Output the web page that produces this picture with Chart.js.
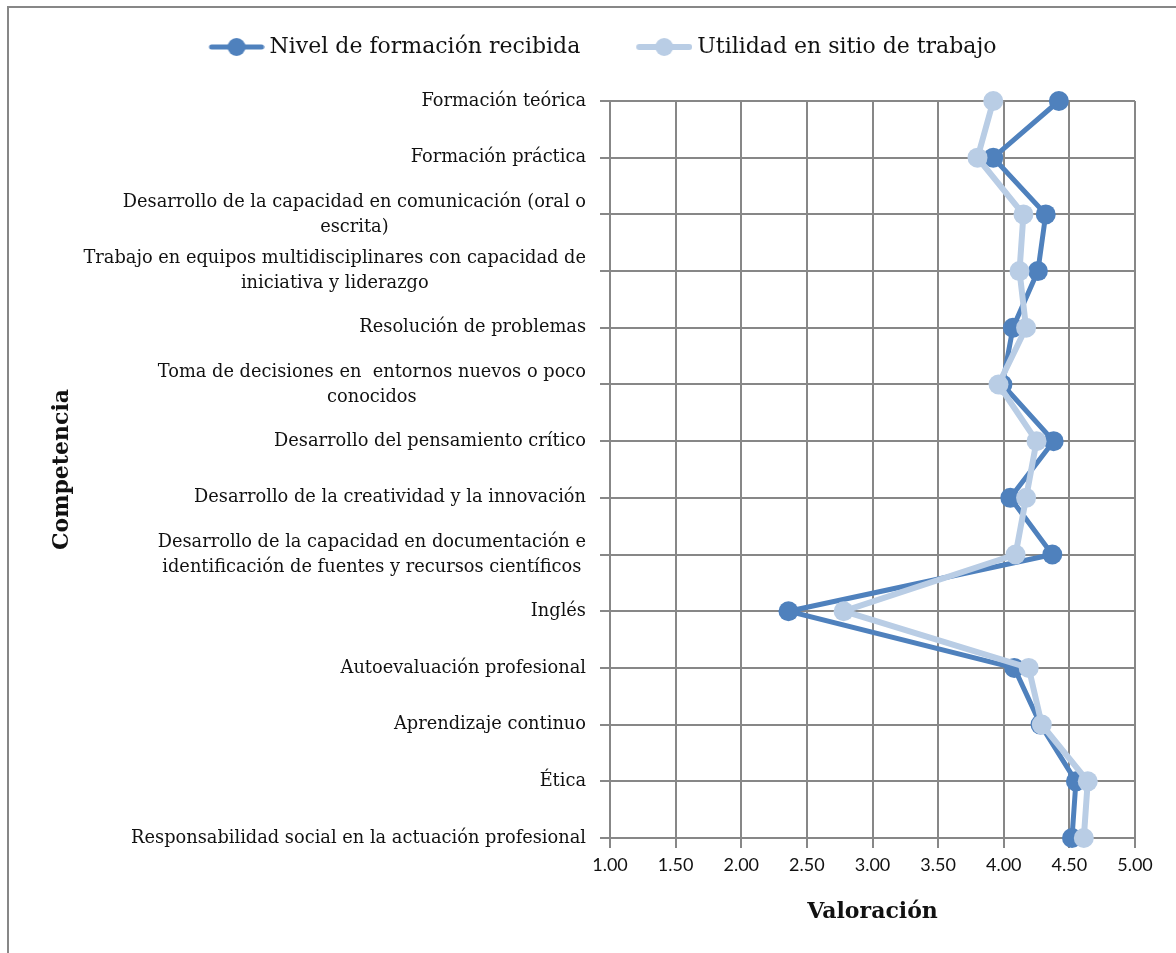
<!DOCTYPE html>
<html>
<head>
<meta charset="utf-8">
<title>Competencias</title>
<script src="https://cdn.jsdelivr.net/npm/chart.js@4/dist/chart.umd.min.js"></script>
<style>
  html, body { margin: 0; padding: 0; background: #fff; }
  #wrap { position: relative; width: 1176px; height: 953px; }
</style>
</head>
<body>
<div id="wrap"><canvas id="chart" width="1176" height="953"></canvas></div>
<script>
// Competencias evaluadas (de arriba hacia abajo)
const competencias = [
    'Formación teórica',
    'Formación práctica',
    ['Desarrollo de la capacidad en comunicación (oral o', 'escrita)'],
    ['Trabajo en equipos multidisciplinares con capacidad de', 'iniciativa y liderazgo'],
    'Resolución de problemas',
    ['Toma de decisiones en  entornos nuevos o poco', 'conocidos'],
    'Desarrollo del pensamiento crítico',
    'Desarrollo de la creatividad y la innovación',
    ['Desarrollo de la capacidad en documentación e', 'identificación de fuentes y recursos científicos'],
    'Inglés',
    'Autoevaluación profesional',
    'Aprendizaje continuo',
    'Ética',
    'Responsabilidad social en la actuación profesional'
];

const nivelFormacion = [4.42, 3.92, 4.32, 4.26, 4.07, 3.99, 4.38, 4.05, 4.37, 2.36, 4.08, 4.28, 4.55, 4.52];
const utilidadTrabajo = [3.92, 3.80, 4.15, 4.12, 4.17, 3.96, 4.25, 4.17, 4.09, 2.78, 4.19, 4.29, 4.64, 4.61];

const escala = { min: 1, max: 5, paso: 0.5 };

const AZUL = '#4F81BD';
const AZUL_CLARO = '#B9CDE5';
const GRIS = '#878787';
const SERIF = '"DejaVu Serif", "Liberation Serif", serif';

// legend marker: short line with a dot, drawn at the right end of a wider canvas
// (the empty left part widens the gap between the two legend entries)
function marcador(color, grosor) {
    const c = document.createElement('canvas');
    c.width = 87;
    c.height = 20;
    const g = c.getContext('2d');
    const x0 = c.width - 56;
    g.strokeStyle = color;
    g.lineWidth = grosor;
    g.lineCap = 'round';
    g.beginPath();
    g.moveTo(x0 + 3, 10);
    g.lineTo(x0 + 53, 10);
    g.stroke();
    g.fillStyle = color;
    g.beginPath();
    g.arc(x0 + 28, 10, 9, 0, Math.PI * 2);
    g.fill();
    return c;
}

// frame around the whole figure (only top and left edges are visible)
const marco = {
    id: 'marco',
    beforeDraw(chart) {
        const ctx = chart.ctx;
        ctx.save();
        ctx.strokeStyle = GRIS;
        ctx.lineWidth = 2;
        ctx.beginPath();
        ctx.moveTo(8, chart.height);
        ctx.lineTo(8, 7);
        ctx.lineTo(chart.width, 7);
        ctx.stroke();
        ctx.restore();
    }
};

// category labels: block right-aligned to the axis, lines centred inside the block
const etiquetasY = {
    id: 'etiquetasY',
    afterDraw(chart) {
        const ctx = chart.ctx;
        const y = chart.scales.y;
        const derecha = chart.chartArea.left - 24;
        ctx.save();
        ctx.font = '17.8px ' + SERIF;
        ctx.fillStyle = '#111';
        ctx.textAlign = 'center';
        ctx.textBaseline = 'middle';
        competencias.forEach((lbl, i) => {
            const lineas = Array.isArray(lbl) ? lbl : [lbl];
            const ancho = Math.max(...lineas.map(l => ctx.measureText(l).width));
            const cx = derecha - ancho / 2;
            const py = y.getPixelForValue(i);
            lineas.forEach((l, j) => {
                ctx.fillText(l, cx, py + (j - (lineas.length - 1) / 2) * 25);
            });
        });
        ctx.restore();
    }
};

const ctx = document.getElementById('chart').getContext('2d');
const chart = new Chart(ctx, {
    type: 'line',
    data: {
        labels: competencias,
        datasets: [
            {
                label: 'Nivel de formación recibida',
                data: nivelFormacion,
                borderColor: AZUL,
                backgroundColor: AZUL,
                borderWidth: 5,
                pointRadius: 10,
                pointHoverRadius: 10,
                pointBorderWidth: 0,
                pointStyle: 'circle',
                order: 1
            },
            {
                label: 'Utilidad en sitio de trabajo',
                data: utilidadTrabajo,
                borderColor: AZUL_CLARO,
                backgroundColor: AZUL_CLARO,
                borderWidth: 6,
                pointRadius: 10,
                pointHoverRadius: 10,
                pointBorderWidth: 0,
                pointStyle: 'circle',
                order: 0
            }
        ]
    },
    options: {
        indexAxis: 'y',
        responsive: false,
        animation: false,
        layout: {
            padding: { top: 5, left: 45, right: 41, bottom: 24 }
        },
        scales: {
            x: {
                type: 'linear',
                min: escala.min,
                max: escala.max,
                afterFit(scale) { scale.height = 91; },
                ticks: {
                    stepSize: escala.paso,
                    padding: 6,
                    color: '#111',
                    font: { family: 'Lato', size: 18 },
                    callback: v => Number(v).toFixed(2)
                },
                grid: { color: GRIS, lineWidth: 2, tickLength: 10 },
                border: { color: GRIS, width: 2 },
                title: {
                    display: true,
                    text: 'Valoración',
                    color: '#111',
                    font: { family: SERIF, size: 22, weight: 'bold' }
                }
            },
            y: {
                type: 'category',
                offset: false,
                afterFit(scale) { scale.width = 565; },
                ticks: { display: false },
                grid: { color: GRIS, lineWidth: 2, tickLength: 10 },
                border: { color: GRIS, width: 2 },
                title: {
                    display: true,
                    text: 'Competencia',
                    color: '#111',
                    font: { family: SERIF, size: 22, weight: 'bold' }
                }
            }
        },
        plugins: {
            legend: {
                position: 'top',
                labels: {
                    usePointStyle: true,
                    pointStyleWidth: 75,
                    padding: 31,
                    color: '#111',
                    font: { family: SERIF, size: 22 },
                    sort: (a, b) => a.datasetIndex - b.datasetIndex,
                    generateLabels(chart) {
                        return chart.data.datasets.map((ds, i) => ({
                            text: ds.label,
                            datasetIndex: i,
                            fontColor: '#111',
                            lineWidth: 0,
                            pointStyle: marcador(ds.borderColor, ds.borderWidth)
                        }));
                    }
                }
            },
            // empty title used as a spacer between the legend and the plot
            title: {
                display: true,
                text: '',
                weight: 500,
                padding: 0,
                font: { size: 33, lineHeight: 1 }
            },
            tooltip: { enabled: false }
        }
    },
    plugins: [marco, etiquetasY]
});
</script>
</body>
</html>
